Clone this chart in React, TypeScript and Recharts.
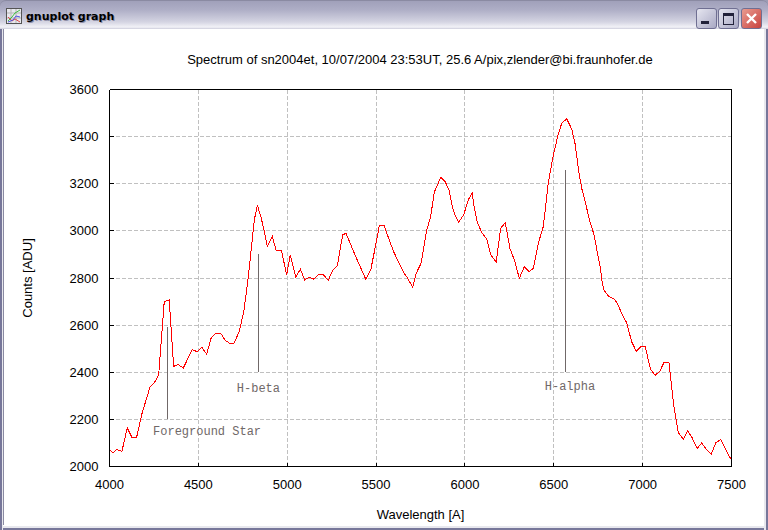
import React from 'react';
import { LineChart, Line, CartesianGrid, XAxis, YAxis, ReferenceLine, ReferenceDot } from 'recharts';

const wavelengths = [
  4000, 4021, 4041, 4070, 4100, 4125, 4153, 4183, 4228, 4256, 4277, 4308, 4336, 4361, 4385, 4415,
  4466, 4494, 4519, 4547, 4573, 4598, 4626, 4652, 4674, 4701, 4730, 4757, 4781, 4800, 4815, 4832,
  4854, 4871, 4888, 4916, 4939, 4967, 4997, 5017, 5048, 5074, 5098, 5124, 5151, 5175, 5203, 5231,
  5256, 5282, 5312, 5331, 5363, 5391, 5415, 5442, 5470, 5496, 5518, 5546, 5574, 5597, 5625, 5657,
  5672, 5706, 5726, 5754, 5783, 5807, 5828, 5864, 5888, 5910, 5929, 5944, 5965, 5993, 6019, 6041,
  6052, 6069, 6097, 6122, 6145, 6176, 6201, 6227, 6253, 6278, 6306, 6334, 6362, 6385, 6413, 6441,
  6469, 6494, 6522, 6545, 6573, 6601, 6619, 6642, 6657, 6681, 6700, 6726, 6764, 6773, 6782, 6807,
  6840, 6857, 6882, 6910, 6938, 6964, 6991, 7015, 7032, 7045, 7071, 7098, 7120, 7148, 7163, 7176,
  7201, 7229, 7253, 7278, 7307, 7332, 7360, 7386, 7411, 7439, 7469, 7500,
];
const counts = [
  2069, 2059, 2072, 2065, 2164, 2125, 2125, 2225, 2337, 2360, 2391, 2700, 2707, 2425, 2433, 2418,
  2496, 2487, 2506, 2477, 2548, 2565, 2565, 2535, 2524, 2524, 2572, 2664, 2803, 2940, 3047, 3109,
  3054, 2997, 2933, 2976, 2915, 2918, 2814, 2897, 2803, 2837, 2792, 2803, 2795, 2814, 2814, 2790,
  2833, 2853, 2983, 2990, 2931, 2881, 2841, 2795, 2834, 2933, 3021, 3021, 2962, 2915, 2870, 2820,
  2806, 2761, 2820, 2864, 2997, 3060, 3165, 3227, 3210, 3174, 3103, 3068, 3037, 3068, 3132, 3160,
  3103, 3037, 2990, 2966, 2898, 2867, 3011, 3035, 2926, 2877, 2799, 2848, 2827, 2841, 2948, 3018,
  3203, 3309, 3401, 3458, 3475, 3432, 3373, 3245, 3181, 3111, 3047, 2985, 2834, 2778, 2749, 2724,
  2710, 2693, 2650, 2610, 2530, 2489, 2510, 2508, 2452, 2412, 2387, 2406, 2442, 2442, 2338, 2253,
  2143, 2115, 2151, 2123, 2076, 2100, 2072, 2052, 2100, 2115, 2069, 2027,
];
const xTicks = [4000, 4500, 5000, 5500, 6000, 6500, 7000, 7500];
const yTicks = [2000, 2200, 2400, 2600, 2800, 3000, 3200, 3400, 3600];

const markerLines = [
  { x: 4325, from: 2200, to: 2590 },
  { x: 4836, from: 2400, to: 2900 },
  { x: 6568, from: 2400, to: 3260 },
];
const markerLabels = [
  { text: 'Foreground Star', x: 4549, y: 2150 },
  { text: 'H-beta', x: 4838, y: 2333 },
  { text: 'H-alpha', x: 6591, y: 2342 },
];

const spectrum = wavelengths.map((w, i) => ({ wavelength: w, counts: counts[i] }));

const SANS = '"Liberation Sans", Arial, sans-serif';
const tickStyle = { fill: '#000', fontSize: 13, fontFamily: SANS };
const axisLine = { stroke: '#000', strokeWidth: 1, shapeRendering: 'crispEdges' as const };

function TitleBar() {
  const btn = (left: number, bg: string, child: React.ReactNode) => (
    <div
      style={{
        position: 'absolute', left, top: 7, width: 19, height: 19, borderRadius: 3,
        border: '1px solid #6f6f92', background: bg, boxSizing: 'content-box',
      }}
    >
      {child}
    </div>
  );
  return (
    <div
      style={{
        position: 'absolute', left: 0, top: 0, width: 768, height: 30, boxSizing: 'border-box',
        borderTop: '1px solid #8a8aa2', borderRadius: '6px 6px 0 0',
        background: 'linear-gradient(#a0a0ba 0%, #aeaec6 30%, #d4d4e2 72%, #f2f2f7 90%, #b8b8cc 100%)',
      }}
    >
      <svg width={16} height={16} style={{ position: 'absolute', left: 6, top: 7 }}>
        <rect x={0.5} y={0.5} width={15} height={15} fill="#e8e8ee" stroke="#555" />
        <path d="M1 5H15M1 10H15M5 1V15M10 1V15" stroke="#b5b5b5" />
        <path d="M2 13L6 9L9 5L14 2" stroke="#40c040" fill="none" />
        <path d="M2 9L6 13L9 11L14 14" stroke="#e04848" fill="none" />
        <path d="M2 14L7 12L10 8L14 9" stroke="#5050e0" fill="none" />
      </svg>
      <div
        style={{
          position: 'absolute', left: 26, top: 9, fontFamily: '"DejaVu Sans", sans-serif', fontWeight: 700,
          fontSize: 11, color: '#000', textShadow: '1px 1px 0 #8f8fa8', whiteSpace: 'nowrap',
        }}
      >
        gnuplot graph
      </div>
      {btn(696, 'linear-gradient(135deg, #e6e6f0, #a9a9c4)', (
        <div style={{ position: 'absolute', left: 4, top: 12, width: 8, height: 3, background: '#22223a' }} />
      ))}
      {btn(718, 'linear-gradient(135deg, #e6e6f0, #a9a9c4)', (
        <div style={{ position: 'absolute', left: 4, top: 4, width: 9, height: 8, border: '1px solid #22223a', borderTopWidth: 3 }} />
      ))}
      {btn(741, 'linear-gradient(135deg, #e99c90, #c9433f)', (
        <svg width={19} height={19} style={{ position: 'absolute', left: 0, top: 0 }}>
          <path d="M5 5L14 14M14 5L5 14" stroke="#fff" strokeWidth={2.4} />
        </svg>
      ))}
    </div>
  );
}

export default function App() {
  return (
    <div style={{ position: 'absolute', left: 0, top: 0, width: 768, height: 530, background: '#9c9cb4', overflow: 'hidden' }}>
      <TitleBar />
      <div style={{ position: 'absolute', left: 3, top: 29, width: 761, height: 496, background: '#fff', borderLeft: '1px solid #8a8aa2', boxSizing: 'border-box' }} />
      <div style={{ position: 'absolute', left: 0, top: 525, width: 768, height: 5, background: '#e8e8ee', borderTop: '1px solid #fff', borderBottom: '2px solid #77779a', boxSizing: 'border-box' }} />
      <div style={{ position: 'absolute', left: 764, top: 29, width: 4, height: 501, background: '#e8e8ee', borderRight: '2px solid #77779a', boxSizing: 'border-box' }} />
      <div style={{ position: 'absolute', left: 0, top: 29, width: 3, height: 501, background: '#e8e8ee', borderLeft: '2px solid #77779a', boxSizing: 'border-box' }} />
      <div style={{ position: 'absolute', left: 0, width: 840, top: 52, textAlign: 'center', fontFamily: SANS, fontSize: 13, color: '#000' }}>
        Spectrum of sn2004et, 10/07/2004 23:53UT, 25.6 A/pix,zlender@bi.fraunhofer.de
      </div>
      <div style={{ position: 'absolute', left: 0, top: 0 }}>
        <LineChart
          width={768}
          height={530}
          data={spectrum}
          margin={{ top: 88.5, right: 35.5, bottom: 33.5, left: 49.5 }}
        >
          <CartesianGrid stroke="#c0c0c0" strokeDasharray="4 2" shapeRendering="crispEdges" />
          <XAxis
            dataKey="wavelength"
            type="number"
            domain={[4000, 7500]}
            ticks={xTicks}
            interval={0}
            height={30}
            tickSize={-4}
            tickMargin={17}
            tick={tickStyle}
            axisLine={axisLine}
            tickLine={axisLine}
            label={{ value: 'Wavelength [A]', position: 'insideBottom', offset: -22, fill: '#000', fontSize: 13, fontFamily: SANS }}
          />
          <XAxis
            xAxisId="top"
            orientation="top"
            dataKey="wavelength"
            type="number"
            domain={[4000, 7500]}
            ticks={xTicks}
            interval={0}
            height={1}
            tickSize={-4}
            tick={false}
            axisLine={axisLine}
            tickLine={axisLine}
          />
          <YAxis
            type="number"
            domain={[2000, 3600]}
            ticks={yTicks}
            interval={0}
            width={60}
            tickSize={-4}
            tickMargin={15}
            tick={tickStyle}
            axisLine={axisLine}
            tickLine={axisLine}
            label={{ value: 'Counts [ADU]', angle: -90, position: 'insideLeft', offset: -22, fill: '#000', fontSize: 13, fontFamily: SANS, style: { textAnchor: 'middle' } }}
          />
          <YAxis
            yAxisId="right"
            orientation="right"
            type="number"
            domain={[2000, 3600]}
            ticks={yTicks}
            interval={0}
            width={1}
            tickSize={-4}
            tick={false}
            axisLine={axisLine}
            tickLine={axisLine}
          />
          {markerLines.map((m) => (
            <ReferenceLine
              key={m.x}
              segment={[{ x: m.x, y: m.from }, { x: m.x, y: m.to }]}
              stroke="#706868"
              strokeWidth={1}
              shapeRendering="crispEdges"
            />
          ))}
          {markerLabels.map((m) => (
            <ReferenceDot
              key={m.text}
              x={m.x}
              y={m.y}
              r={0}
              stroke="none"
              fill="none"
              label={{ value: m.text, position: 'center', fill: '#706868', fontSize: 12, fontFamily: '"Liberation Mono", monospace' }}
            />
          ))}
          <Line
            type="linear"
            dataKey="counts"
            stroke="#ff0000"
            strokeWidth={1}
            dot={false}
            isAnimationActive={false}
            shapeRendering="crispEdges"
          />
        </LineChart>
      </div>
    </div>
  );
}
